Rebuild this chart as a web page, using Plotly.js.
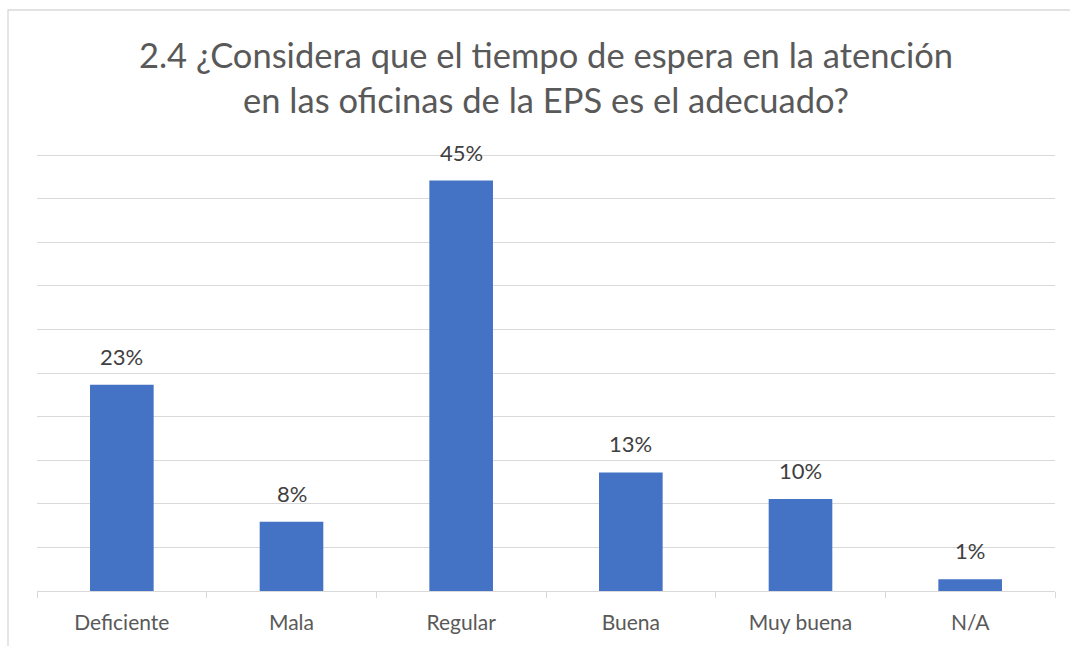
<!DOCTYPE html>
<html>
<head>
<meta charset="utf-8">
<script src="https://cdn.plot.ly/plotly-3.0.1.min.js"></script>
<style>html,body{margin:0;padding:0;background:#fff;}#chart{width:1070px;height:646px;}</style>
</head>
<body>
<div id="chart"></div>
<script>
const categories = ["Deficiente", "Mala", "Regular", "Buena", "Muy buena", "N/A"];
const values = [0.226, 0.076, 0.45, 0.13, 0.101, 0.013];
const titleText = "2.4 ¿Considera que el tiempo de espera en la atención<br>en las oficinas de la EPS es el adecuado?";

const FONT = "Lato, 'Open Sans', sans-serif";
const annotations = categories.map((c, i) => ({
  x: c, y: values[i], xref: "x", yref: "y",
  text: Math.round(values[i] * 100) + "%",
  showarrow: false, yanchor: "bottom", yshift: 13,
  font: {family: FONT, size: 22, color: "#404040"}
}));

const trace = {
  type: "bar", x: categories, y: values,
  marker: {color: "#4472C4"},
  hoverinfo: "x+y"
};

const layout = {
  width: 1070, height: 646,
  margin: {l: 37, r: 15, t: 151, b: 55},
  paper_bgcolor: "#ffffff", plot_bgcolor: "#ffffff",
  bargap: 0.625,
  showlegend: false,
  title: {
    text: titleText, x: 0.5, xref: "paper", xanchor: "center",
    y: 1 - 68 / 646, yref: "container", yanchor: "middle",
    font: {family: FONT, size: 34.5, color: "#595959", weight: 400}
  },
  xaxis: {
    type: "category", showline: true, linecolor: "#d9d9d9", linewidth: 1,
    ticks: "outside", tickson: "boundaries", ticklen: 6, tickcolor: "#d9d9d9",
    ticklabelstandoff: 13,
    showgrid: false, zeroline: false,
    tickfont: {family: FONT, size: 21, color: "#595959"}
  },
  yaxis: {
    range: [0, 0.48239], tick0: 0, dtick: 0.0478,
    showticklabels: false, showgrid: true, gridcolor: "#d9d9d9", gridwidth: 1,
    zeroline: false, showline: false, ticks: ""
  },
  annotations: annotations,
  shapes: [{
    type: "rect", xref: "paper", yref: "paper",
    x0: (8 - 37) / 1018, x1: 1.2, y0: -0.5, y1: (591 - 10) / 440,
    line: {color: "#d9d9d9", width: 1.3}, fillcolor: "rgba(0,0,0,0)", layer: "below"
  }]
};

Plotly.newPlot("chart", [trace], layout, {displayModeBar: false, staticPlot: true});
</script>
</body>
</html>
